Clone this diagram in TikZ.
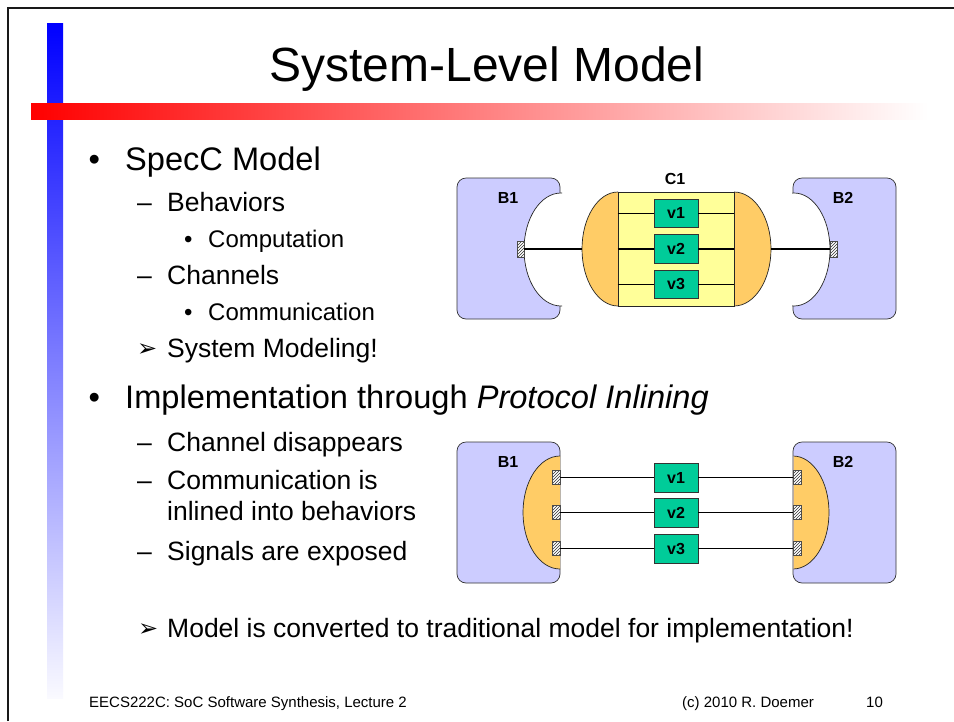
\documentclass[tikz,border=0pt]{standalone}
\usepackage{fontspec}
\setmainfont{Liberation Sans}
\newfontfamily\symfont{DejaVu Sans}
\usepackage{tikz}
\usetikzlibrary{patterns}

\definecolor{bhvfill}{RGB}{204,204,255}
\definecolor{chfill}{RGB}{255,204,102}
\definecolor{chcore}{RGB}{255,255,153}
\definecolor{varfill}{RGB}{0,204,153}
\definecolor{barblue}{RGB}{0,0,255}
\definecolor{barred}{RGB}{255,0,0}

\newcommand{\fsz}[1]{\fontsize{#1}{#1}\selectfont}

\tikzset{
  bhv/.style={draw=black!80, fill=bhvfill, rounded corners=9, line width=0.7, inner sep=0, minimum width=103, minimum height=141},
  chcoreb/.style={draw=black!85, fill=chcore, line width=0.7, inner sep=0, minimum width=116, minimum height=114},
  chhalf/.style={draw=black!85, fill=chfill, line width=0.7},
  var/.style={draw=black!80, fill=varfill, line width=0.7, inner sep=0, minimum width=44, minimum height=28, font=\fsz{16}\bfseries},
  port/.style={draw=black!70, preaction={fill=white}, pattern=north east lines, pattern color=black!80, line width=0.6, inner sep=0},
  blabel/.style={font=\fsz{16}\bfseries, inner sep=0},
  lvla/.style={anchor=base west, inner sep=0, font=\fsz{32.6}},
  lvlb/.style={anchor=base west, inner sep=0, font=\fsz{26.5}},
  lvlc/.style={anchor=base west, inner sep=0, font=\fsz{24}},
  arrowmark/.style={anchor=base west, inner sep=0, font=\symfont\fsz{24}},
  foot/.style={anchor=base west, inner sep=0, font=\fsz{15}}
}

\begin{document}
\begin{tikzpicture}[x=1pt, y=-1pt]
  \useasboundingbox (0,0) rectangle (954,721);
  \fill[white] (0,0) rectangle (954,721);

  \draw[line width=2.2, black!90] (8.3,721) -- (8.3,8.3) -- (954,8.3);
  \shade[top color=barblue, middle color=barblue!32, bottom color=barblue!2] (47,23) rectangle (63,698);
  \shade[left color=barred, middle color=barred!30, right color=white] (31,103) rectangle (928,119);

  \node[font=\fsz{48}, anchor=base, inner sep=0] (title) at (487,81) {System-Level Model};

  \node[lvla] (m1) at (88.3,170) {•};
  \node[lvla] (t1) at (125,170) {SpecC Model};
  \node[lvlb] (m2) at (137,211) {–};
  \node[lvlb] (t2) at (167,211) {Behaviors};
  \node[lvlc] (m3) at (183.8,247) {•};
  \node[lvlc] (t3) at (208,247) {Computation};
  \node[lvlb] (m4) at (137,284) {–};
  \node[lvlb] (t4) at (167,284) {Channels};
  \node[lvlc] (m5) at (183.8,320) {•};
  \node[lvlc] (t5) at (208,320) {Communication};
  \node[arrowmark] (m6) at (137,356) {➢};
  \node[lvlb] (t6) at (167,357) {System Modeling!};

  \node[lvla] (m7) at (88.3,408) {•};
  \node[lvla] (t7) at (125,408) {Implementation through \textit{Protocol Inlining}};
  \node[lvlb] (m8) at (137,451) {–};
  \node[lvlb] (t8) at (167,451) {Channel disappears};
  \node[lvlb] (m9) at (137,489) {–};
  \node[lvlb] (t9) at (167,489) {Communication is};
  \node[lvlb] (t10) at (167,520) {inlined into behaviors};
  \node[lvlb] (m11) at (137,560) {–};
  \node[lvlb] (t11) at (167,560) {Signals are exposed};

  \node[arrowmark] (m12) at (138,636) {➢};
  \node[lvlb] (t12) at (167,637) {Model is converted to traditional model for implementation!};

  \node[foot] (f1) at (89,707) {EECS222C: SoC Software Synthesis, Lecture 2};
  \node[foot] (f2) at (682,707) {(c) 2010 R. Doemer};
  \node[foot] (f3) at (866,707) {10};

  \node[bhv] (tb1) at (508.5,248.5) {};
  \begin{scope}
    \clip (440,170) rectangle (562,330);
    \filldraw[fill=white, draw=black!85, line width=0.7] (561,249.5) ellipse [x radius=37, y radius=56.5];
  \end{scope}
  \node[bhv] (tb2) at (844.5,248.5) {};
  \begin{scope}
    \clip (792,170) rectangle (910,330);
    \filldraw[fill=white, draw=black!85, line width=0.7] (794,249.5) ellipse [x radius=36, y radius=56.5];
  \end{scope}
  \node[blabel] (tb1l) at (508,198) {B1};
  \node[blabel] (tb2l) at (843,198) {B2};
  \node[port, minimum width=7, minimum height=16] (tp1) at (520.5,249) {};
  \node[port, minimum width=7, minimum height=16] (tp2) at (833.5,249) {};

  \begin{scope}
    \clip (570,180) rectangle (618,320);
    \filldraw[chhalf] (618,249) ellipse [x radius=36, y radius=57];
  \end{scope}
  \begin{scope}
    \clip (734,180) rectangle (785,320);
    \filldraw[chhalf] (734,249) ellipse [x radius=37, y radius=57];
  \end{scope}
  \node[chcoreb] (tc1) at (676,249) {};
  \node[blabel] (tc1l) at (675,179) {C1};
  \coordinate (tc1w) at (582,249);
  \coordinate (tc1e) at (771,249);
  \node[var] (tv1) at (676,213) {v1};
  \node[var, minimum height=29] (tv2) at (676,249) {v2};
  \node[var] (tv3) at (676,284) {v3};
  \draw[line width=0.7] (tv1.west -| tc1.west) -- (tv1.west);
  \draw[line width=0.7] (tv1.east) -- (tv1.east -| tc1.east);
  \draw[line width=0.7] (tv3.west -| tc1.west) -- (tv3.west);
  \draw[line width=0.7] (tv3.east) -- (tv3.east -| tc1.east);
  \draw[line width=1.8] (tc1.west) -- (tv2.west);
  \draw[line width=1.8] (tv2.east) -- (tc1.east);
  \draw[line width=1.8] (tp1.east) -- (tc1w);
  \draw[line width=1.8] (tc1e) -- (tp2.west);

  \node[bhv] (bb1) at (508.5,512.5) {};
  \begin{scope}
    \clip (440,440) rectangle (560,590);
    \filldraw[chhalf] (560,512.5) ellipse [x radius=37, y radius=56.5];
  \end{scope}
  \node[bhv] (bb2) at (844.5,512.5) {};
  \begin{scope}
    \clip (793.5,440) rectangle (910,590);
    \filldraw[chhalf] (793,512.5) ellipse [x radius=36, y radius=56.5];
  \end{scope}
  \node[blabel] (bb1l) at (508,462) {B1};
  \node[blabel] (bb2l) at (843,462) {B2};
  \node[port, minimum width=8, minimum height=14] (bp11) at (556,477.5) {};
  \node[port, minimum width=8, minimum height=14] (bp12) at (556,512.5) {};
  \node[port, minimum width=8, minimum height=14] (bp13) at (556,548.5) {};
  \node[port, minimum width=8, minimum height=14] (bp21) at (797,477.5) {};
  \node[port, minimum width=8, minimum height=14] (bp22) at (797,512.5) {};
  \node[port, minimum width=8, minimum height=14] (bp23) at (797,548.5) {};
  \node[var, minimum height=29] (bv1) at (676,477.5) {v1};
  \node[var, minimum height=29] (bv2) at (676,512.5) {v2};
  \node[var, minimum height=29] (bv3) at (676,548.5) {v3};
  \draw[line width=0.8] (bp11.east) -- (bv1.west);
  \draw[line width=0.8] (bv1.east) -- (bp21.west);
  \draw[line width=0.8] (bp12.east) -- (bv2.west);
  \draw[line width=0.8] (bv2.east) -- (bp22.west);
  \draw[line width=0.8] (bp13.east) -- (bv3.west);
  \draw[line width=0.8] (bv3.east) -- (bp23.west);
\end{tikzpicture}
\end{document}
